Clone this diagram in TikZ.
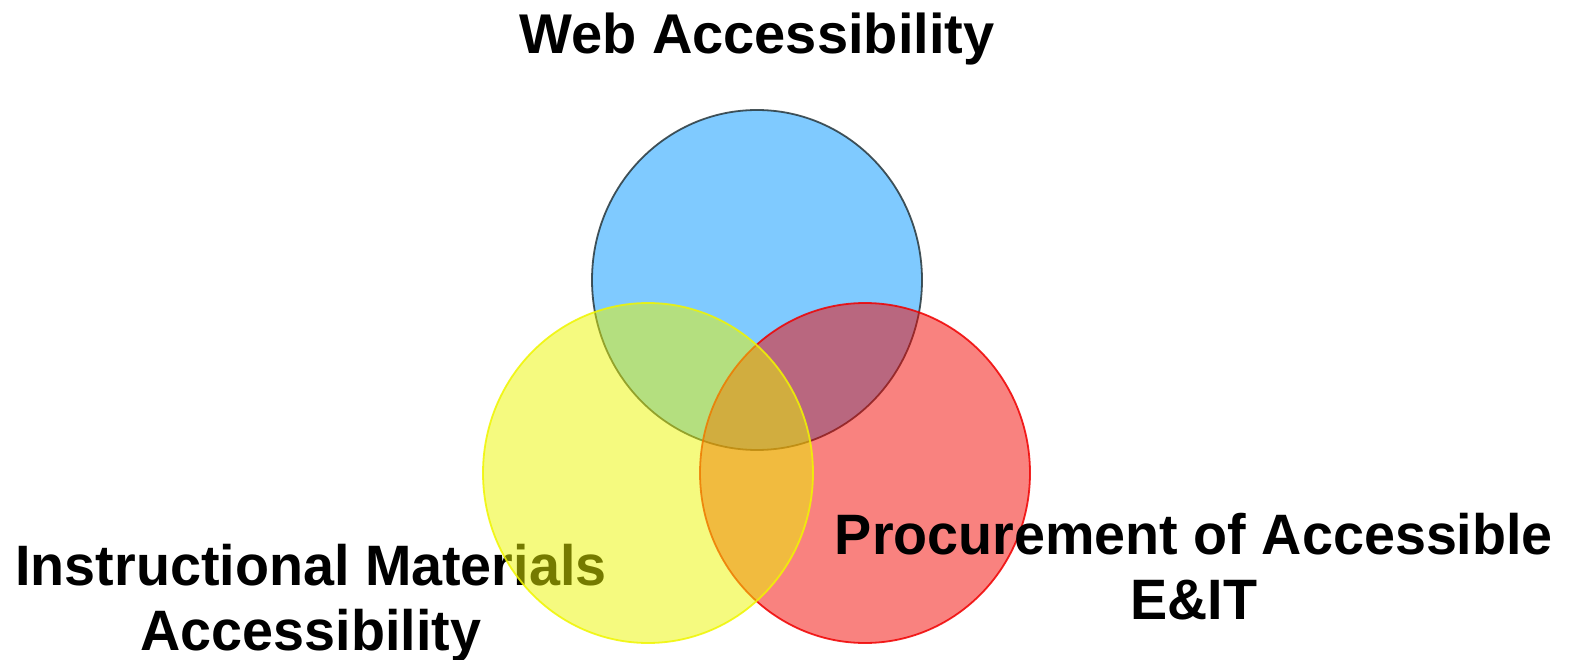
\documentclass[tikz,border=0pt]{standalone}
\usepackage{fontspec}
\usetikzlibrary{shapes.geometric}
\setmainfont{Liberation Sans}
\definecolor{cblue}{RGB}{0,149,255}
\definecolor{cblueline}{RGB}{40,55,60}
\definecolor{cred}{RGB}{243,5,0}
\definecolor{credline}{RGB}{240,0,0}
\definecolor{cyellow}{RGB}{235,245,0}
\definecolor{cyellowline}{RGB}{240,245,0}
\begin{document}
\begin{tikzpicture}[x=1pt,y=-1pt,
  venn/.style={ellipse, minimum width=330pt, minimum height=340pt, inner sep=0pt, line width=1.8pt, fill opacity=0.5, draw opacity=0.85},
  title/.style={font=\bfseries\fontsize{56}{64}\selectfont, inner sep=0pt},
  lab/.style={font=\bfseries\fontsize{57}{65}\selectfont, inner sep=0pt, align=center, xscale=0.977}]
\useasboundingbox (0,0) rectangle (1569,660);
\node[venn, fill=cblue, draw=cblueline] (web) at (757,280) {};
\node[venn, fill=cred, draw=credline] (proc) at (865,473) {};
\node[title, anchor=base] (tweb) at (757,54) {Web Accessibility};
\node[lab, anchor=base] (tproc) at (1194,619) {Procurement of Accessible\\E\&IT};
\node[lab, anchor=base] (tinst) at (311,650) {Instructional Materials\\Accessibility};
\node[venn, fill=cyellow, draw=cyellowline] (inst) at (648,473) {};
\end{tikzpicture}
\end{document}
